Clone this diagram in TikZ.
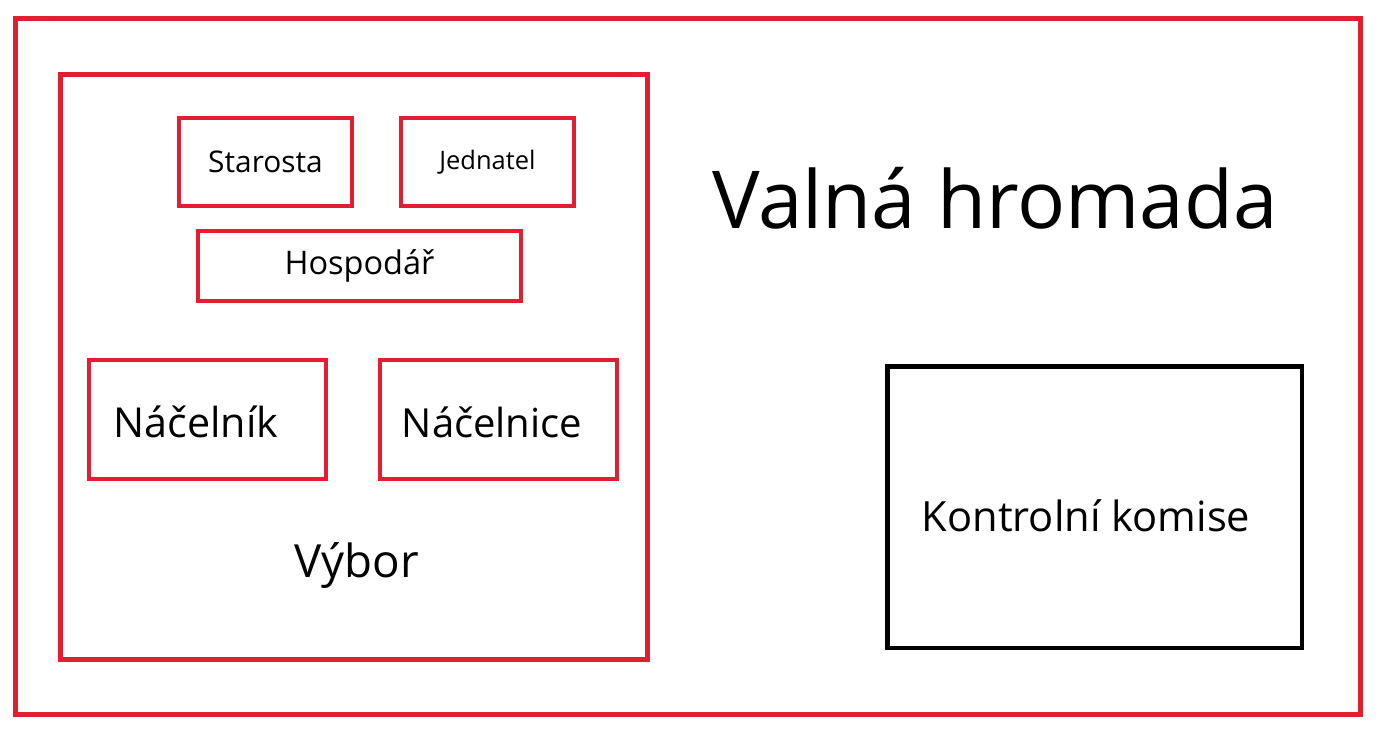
\documentclass[tikz,border=0pt]{standalone}
\usepackage{fontspec}
\setmainfont{Open Sans}
\usetikzlibrary{positioning}
\definecolor{spolkred}{RGB}{226,30,48}
\tikzset{
    ramec/.style={
        rectangle,
        draw=spolkred,
        line width=2.8pt,
        outer sep=0pt,
    },
    funkce/.style={
        rectangle,
        draw=spolkred,
        line width=1.9pt,
        align=center,
        outer sep=0pt,
    },
    komise/.style={
        rectangle,
        draw=black,
        line width=2.8pt,
        align=center,
        outer sep=0pt,
    },
    popis/.style={
        align=center,
        inner sep=0pt,
    },
}
\newcommand{\velikost}[1]{\fontsize{#1}{#1}\selectfont}
\begin{document}
\begin{tikzpicture}[x=0.02cm,y=-0.02cm]
    \useasboundingbox (0,0) rectangle (1382,728);
    % valna hromada
    \node[ramec,minimum width=26.92cm,minimum height=13.94cm](VH) at (688,366.5){};
    \node[popis,font=\velikost{45.5pt}](vhtext) at (995,198){Valná hromada};
    % vybor
    \node[ramec,minimum width=11.74cm,minimum height=11.71cm](V) at (354,367.25){};
    \node[popis,font=\velikost{26pt}](vybor) at (357,565){Výbor};
    \node[funkce,minimum width=3.46cm,minimum height=1.76cm,font=\velikost{17pt}](starosta) at (265.5,162){Starosta};
    \node[funkce,minimum width=3.46cm,minimum height=1.76cm,font=\velikost{14.5pt}](jednatel) at (487.5,162){Jednatel};
    \node[funkce,minimum width=6.46cm,minimum height=1.4cm,font=\velikost{18.5pt}](hospodar) at (359.5,266){Hospodář};
    \node[funkce,minimum width=4.74cm,minimum height=2.38cm](nacelnik) at (207.5,419.5){};
    \node[popis,font=\velikost{23.5pt}](nacelniktext) at (196,422){Náčelník};
    \node[funkce,minimum width=4.74cm,minimum height=2.38cm](nacelnice) at (498.5,419.5){};
    \node[popis,font=\velikost{22.8pt}](nacelnicetext) at (492,422){Náčelnice};
    % kontrolni komise
    \node[komise,minimum width=8.3cm,minimum height=5.64cm](KK) at (1094.5,507){};
    \node[popis,font=\velikost{23.7pt}](kktext) at (1086,516){Kontrolní komise};
\end{tikzpicture}
\end{document}
